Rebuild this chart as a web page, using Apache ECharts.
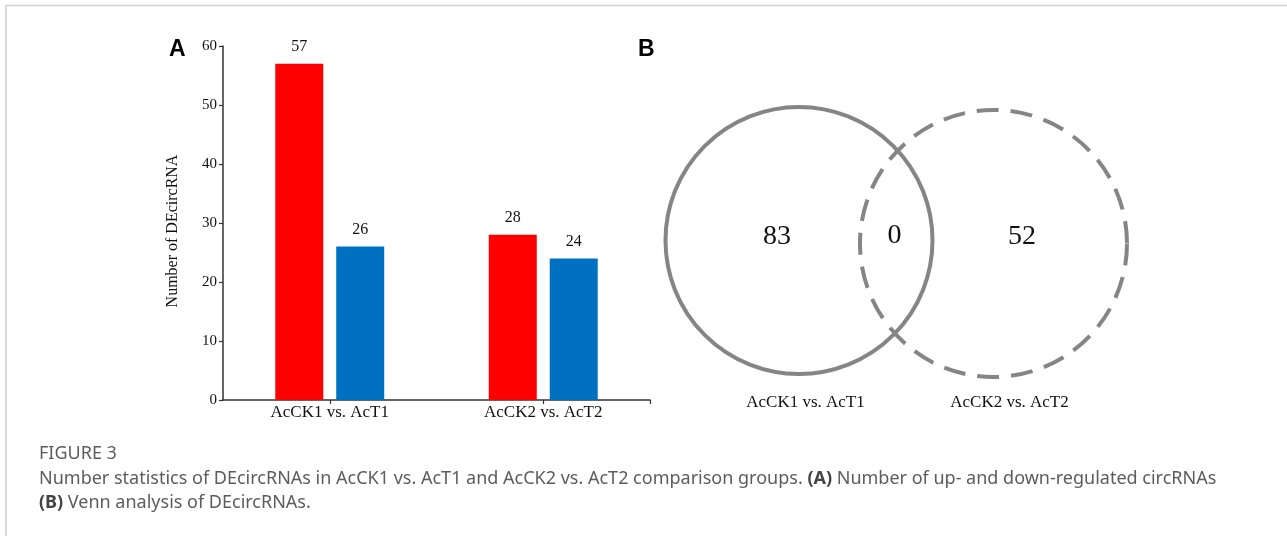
<!DOCTYPE html>
<html>
<head>
<meta charset="utf-8">
<title>DEcircRNAs in AcCK1 vs. AcT1 and AcCK2 vs. AcT2</title>
<script src="https://cdn.jsdelivr.net/npm/echarts@6/dist/echarts.min.js"></script>
<style>
  html, body { margin: 0; padding: 0; background: #ffffff; }
  #chart { width: 1287px; height: 536px; }
</style>
</head>
<body>
<div id="chart"></div>
<script>
// ---- data ----
const groups = ['AcCK1 vs. AcT1', 'AcCK2 vs. AcT2'];
const upRegulated = [57, 28];
const downRegulated = [26, 24];
const yTicks = [0, 10, 20, 30, 40, 50, 60];

const vennSets = ['AcCK1 vs. AcT1', 'AcCK2 vs. AcT2'];
const vennRegions = ['AcCK1 vs. AcT1 only', 'shared', 'AcCK2 vs. AcT2 only'];
const vennCounts = [83, 0, 52];

// ---- layout of the Venn panel (in its own axis units) ----
const vennCircles = [
  { x: 199, y: 199.5, r: 133.5, dash: null },
  { x: 393.5, y: 196.5, r: 133.5, dash: [22, 12] }
];
const vennCountPos = [[177, 203], [294.5, 204], [422, 203]];
const vennNamePos = [[205.5, 37], [409.5, 37]];

const SERIF = "'Liberation Serif', 'Times New Roman', serif";
const SANS = "'Liberation Sans', Arial, sans-serif";
const CAPTION = "'Noto Sans', 'Open Sans', sans-serif";
const VENN_GREY = '#858585';

const chart = echarts.init(document.getElementById('chart'), null, { renderer: 'canvas' });

const option = {
  animation: false,
  backgroundColor: '#ffffff',
  grid: [
    { left: 223, right: 637, top: 46, bottom: 136, containLabel: false },
    { left: 600, top: 40, width: 600, height: 400, containLabel: false }
  ],
  xAxis: [
    {
      type: 'category',
      gridIndex: 0,
      data: groups,
      boundaryGap: true,
      axisLine: { show: true, lineStyle: { color: '#333', width: 1.5 } },
      axisTick: { show: true, alignWithLabel: true, length: 4, lineStyle: { color: '#333', width: 1.2 } },
      axisLabel: { margin: 4, color: '#111', fontFamily: SERIF, fontSize: 17 },
      splitLine: { show: false }
    },
    {
      // closing tick at the right end of the category axis
      type: 'value',
      gridIndex: 0,
      position: 'bottom',
      min: 0,
      max: 1,
      axisLine: { show: false },
      axisLabel: { show: false },
      splitLine: { show: false },
      axisTick: { show: true, customValues: [1], length: 4, lineStyle: { color: '#333', width: 1.2 } }
    },
    {
      type: 'value', gridIndex: 1, min: 0, max: 600, show: false
    }
  ],
  yAxis: [
    {
      type: 'value',
      gridIndex: 0,
      min: yTicks[0],
      max: yTicks[yTicks.length - 1],
      interval: yTicks[1] - yTicks[0],
      name: 'Number of DEcircRNA',
      nameLocation: 'middle',
      nameGap: 42,
      nameTextStyle: { color: '#111', fontFamily: SERIF, fontSize: 16, padding: [0, 16, 0, 0] },
      axisLine: { show: true, lineStyle: { color: '#333', width: 1.5 } },
      axisTick: { show: true, length: 4, lineStyle: { color: '#333', width: 1.2 } },
      axisLabel: { margin: 6, color: '#111', fontFamily: SERIF, fontSize: 15 },
      splitLine: { show: false }
    },
    {
      type: 'value', gridIndex: 1, min: 0, max: 400, show: false
    }
  ],
  series: [
    {
      name: 'Up-regulated',
      type: 'bar',
      xAxisIndex: 0,
      yAxisIndex: 0,
      data: upRegulated,
      barWidth: 48,
      barGap: '27%',
      itemStyle: { color: '#FF0000' },
      label: { show: true, position: 'top', distance: 9, color: '#111', fontFamily: SERIF, fontSize: 16 }
    },
    {
      name: 'Down-regulated',
      type: 'bar',
      xAxisIndex: 0,
      yAxisIndex: 0,
      data: downRegulated,
      barWidth: 48,
      barGap: '27%',
      itemStyle: { color: '#0070C0' },
      label: { show: true, position: 'top', distance: 9, color: '#111', fontFamily: SERIF, fontSize: 16 }
    },
    {
      // Venn circles with their set names underneath
      name: 'Venn sets',
      type: 'custom',
      xAxisIndex: 2,
      yAxisIndex: 1,
      data: vennSets.map((n, i) => ({ name: n, value: [i] })),
      renderItem: function (params, api) {
        const i = params.dataIndex;
        const c = vennCircles[i];
        const p = api.coord([c.x, c.y]);
        const r = api.size([c.r, 0])[0];
        const lp = api.coord(vennNamePos[i]);
        return {
          type: 'group',
          children: [
            {
              type: 'circle',
              shape: { cx: p[0], cy: p[1], r: r },
              style: {
                fill: 'none',
                stroke: VENN_GREY,
                lineWidth: 4,
                lineDash: c.dash || null
              }
            },
            {
              type: 'text',
              x: lp[0],
              y: lp[1],
              style: {
                text: vennSets[i],
                fill: '#111',
                font: '17px ' + SERIF,
                align: 'center',
                verticalAlign: 'middle'
              }
            }
          ]
        };
      }
    },
    {
      // counts for each Venn region
      name: 'Venn counts',
      type: 'custom',
      xAxisIndex: 2,
      yAxisIndex: 1,
      data: vennCounts.map((v, i) => ({ name: vennRegions[i], value: [i, v] })),
      renderItem: function (params, api) {
        const i = params.dataIndex;
        const p = api.coord(vennCountPos[i]);
        return {
          type: 'text',
          x: p[0],
          y: p[1],
          style: {
            text: String(api.value(1)),
            fill: '#111',
            font: '28px ' + SERIF,
            align: 'center',
            verticalAlign: 'middle'
          }
        };
      }
    }
  ],
  graphic: [
    {
      type: 'polyline',
      shape: { points: [[6, 536], [6, 5.5], [1287, 5.5]] },
      style: { fill: 'none', stroke: '#d2d2d2', lineWidth: 1.6 },
      silent: true
    },
    {
      type: 'text', left: 169, top: 38,
      style: { text: 'A', font: 'bold 23px ' + SANS, fill: '#000' }
    },
    {
      type: 'text', left: 638, top: 38,
      style: { text: 'B', font: 'bold 23px ' + SANS, fill: '#000' }
    },
    {
      type: 'text', left: 39, top: 445,
      style: { text: 'FIGURE 3', font: '18px ' + CAPTION, fill: '#5c5c5c' }
    },
    {
      type: 'text', left: 39, top: 470,
      style: {
        text: '{n|Number statistics of DEcircRNAs in AcCK1 vs. AcT1 and AcCK2 vs. AcT2 comparison groups. }{b|(A)}{n| Number of up- and down-regulated circRNAs}',
        rich: {
          n: { font: '18px ' + CAPTION, fill: '#5c5c5c', color: '#5c5c5c' },
          b: { font: 'bold 18px ' + CAPTION, fill: '#444', color: '#444' }
        }
      }
    },
    {
      type: 'text', left: 39, top: 494,
      style: {
        text: '{b|(B)}{n| Venn analysis of DEcircRNAs.}',
        rich: {
          n: { font: '18px ' + CAPTION, fill: '#5c5c5c', color: '#5c5c5c' },
          b: { font: 'bold 18px ' + CAPTION, fill: '#444', color: '#444' }
        }
      }
    }
  ]
};

chart.setOption(option);
</script>
</body>
</html>
